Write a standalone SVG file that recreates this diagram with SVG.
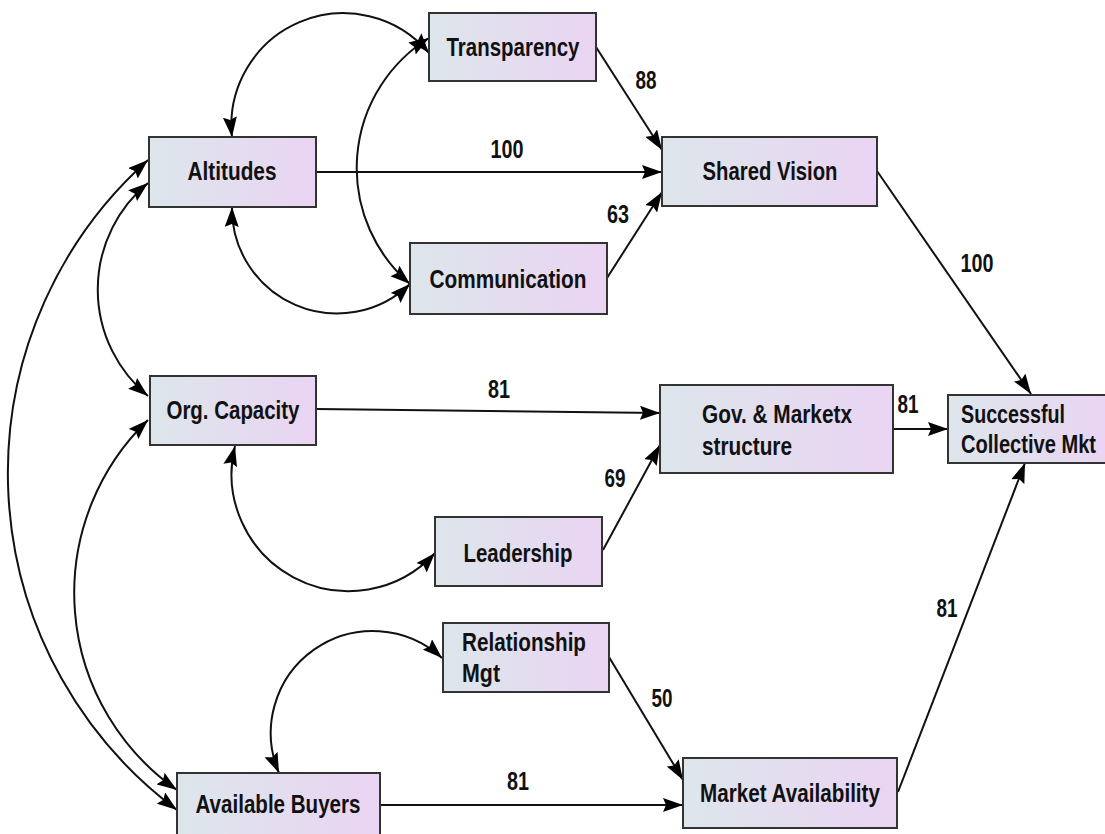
<svg xmlns="http://www.w3.org/2000/svg" width="1105" height="834" viewBox="0 0 1105 834">
<defs>
<linearGradient id="g" x1="0" y1="0" x2="1" y2="0">
<stop offset="0" stop-color="#dde6eb"/>
<stop offset="1" stop-color="#ead4f3"/>
</linearGradient>
<marker id="ah" markerUnits="userSpaceOnUse" markerWidth="20" markerHeight="14" refX="20" refY="7" orient="auto-start-reverse">
<path d="M0,0 L20,7 L0,14 L3,7 z" fill="#000"/>
</marker>
<style>
.n rect{fill:url(#g);stroke:#333;stroke-width:2}
text{font-family:"Liberation Sans",Arial,sans-serif;font-weight:bold;font-size:26px;fill:#111}
.c{text-anchor:middle}
.e path{fill:none;stroke:#111;stroke-width:2;marker-end:url(#ah)}
.e path.b{marker-start:url(#ah)}
</style>
</defs>
<rect width="1105" height="834" fill="#fff"/>
<g class="e" id="connectors">
<path d="M596,47 L662,150"/>
<path d="M316,172 L662,172"/>
<path d="M607,278 L662,192"/>
<path d="M877,171 L1031,394"/>
<path d="M317,409 L660,413"/>
<path d="M603,550 L660,445"/>
<path d="M893,429 L948,429"/>
<path d="M898,792 L1025,463"/>
<path d="M609,657 L683,780"/>
<path d="M380,805 L683,805"/>
<path class="b" d="M232,137 A112,112 0 0 1 429,53"/>
<path class="b" d="M429,38 A153,153 0 0 0 410,284"/>
<path class="b" d="M232,207 A105,105 0 0 0 410,284"/>
<path class="b" d="M235,446 A117,117 0 0 0 435,553"/>
<path class="b" d="M279,773 A102,102 0 0 1 442,658"/>
<path class="b" d="M148,183 A138,138 0 0 0 148,396"/>
<path class="b" d="M148,420 A240,240 0 0 0 177,790"/>
<path class="b" d="M148,160 A420,420 0 0 0 177,810"/>
</g>
<g id="labels">
<text class="c" x="646" y="89" textLength="21" lengthAdjust="spacingAndGlyphs">88</text>
<text class="c" x="507" y="158" textLength="33" lengthAdjust="spacingAndGlyphs">100</text>
<text class="c" x="618" y="223" textLength="22" lengthAdjust="spacingAndGlyphs">63</text>
<text class="c" x="977" y="272" textLength="33" lengthAdjust="spacingAndGlyphs">100</text>
<text class="c" x="499" y="398" textLength="22" lengthAdjust="spacingAndGlyphs">81</text>
<text class="c" x="615" y="487" textLength="21" lengthAdjust="spacingAndGlyphs">69</text>
<text class="c" x="908" y="413" textLength="21" lengthAdjust="spacingAndGlyphs">81</text>
<text class="c" x="947" y="617" textLength="21" lengthAdjust="spacingAndGlyphs">81</text>
<text class="c" x="662" y="707" textLength="21" lengthAdjust="spacingAndGlyphs">50</text>
<text class="c" x="518" y="790" textLength="22" lengthAdjust="spacingAndGlyphs">81</text>
</g>
<g class="n" id="transparency"><rect x="429" y="13" width="167" height="68"/><text class="c" x="513" y="56" textLength="133" lengthAdjust="spacingAndGlyphs">Transparency</text></g>
<g class="n" id="altitudes"><rect x="149" y="137" width="167" height="70"/><text class="c" x="232" y="180" textLength="89" lengthAdjust="spacingAndGlyphs">Altitudes</text></g>
<g class="n" id="shared-vision"><rect x="662" y="137" width="215" height="69"/><text class="c" x="770" y="180" textLength="135" lengthAdjust="spacingAndGlyphs">Shared Vision</text></g>
<g class="n" id="communication"><rect x="410" y="243" width="197" height="71"/><text class="c" x="508" y="288" textLength="157" lengthAdjust="spacingAndGlyphs">Communication</text></g>
<g class="n" id="org-capacity"><rect x="150" y="376" width="166" height="69"/><text class="c" x="233" y="419" textLength="133" lengthAdjust="spacingAndGlyphs">Org. Capacity</text></g>
<g class="n" id="gov-market"><rect x="660" y="385" width="233" height="88"/><text x="702" y="423" textLength="150" lengthAdjust="spacingAndGlyphs">Gov. &amp; Marketx</text><text x="702" y="455" textLength="90" lengthAdjust="spacingAndGlyphs">structure</text></g>
<g class="n" id="successful-collective"><rect x="948" y="395" width="165" height="68"/><text x="961" y="423" textLength="104" lengthAdjust="spacingAndGlyphs">Successful</text><text x="961" y="453" textLength="135" lengthAdjust="spacingAndGlyphs">Collective Mkt</text></g>
<g class="n" id="leadership"><rect x="435" y="517" width="167" height="69"/><text class="c" x="518" y="562" textLength="109" lengthAdjust="spacingAndGlyphs">Leadership</text></g>
<g class="n" id="relationship-mgt"><rect x="443" y="623" width="166" height="69"/><text x="462" y="651" textLength="124" lengthAdjust="spacingAndGlyphs">Relationship</text><text x="462" y="682" textLength="38" lengthAdjust="spacingAndGlyphs">Mgt</text></g>
<g class="n" id="available-buyers"><rect x="177" y="773" width="203" height="70"/><text class="c" x="278" y="813" textLength="165" lengthAdjust="spacingAndGlyphs">Available Buyers</text></g>
<g class="n" id="market-availability"><rect x="683" y="758" width="214" height="70"/><text class="c" x="790" y="802" textLength="180" lengthAdjust="spacingAndGlyphs">Market Availability</text></g>
</svg>
